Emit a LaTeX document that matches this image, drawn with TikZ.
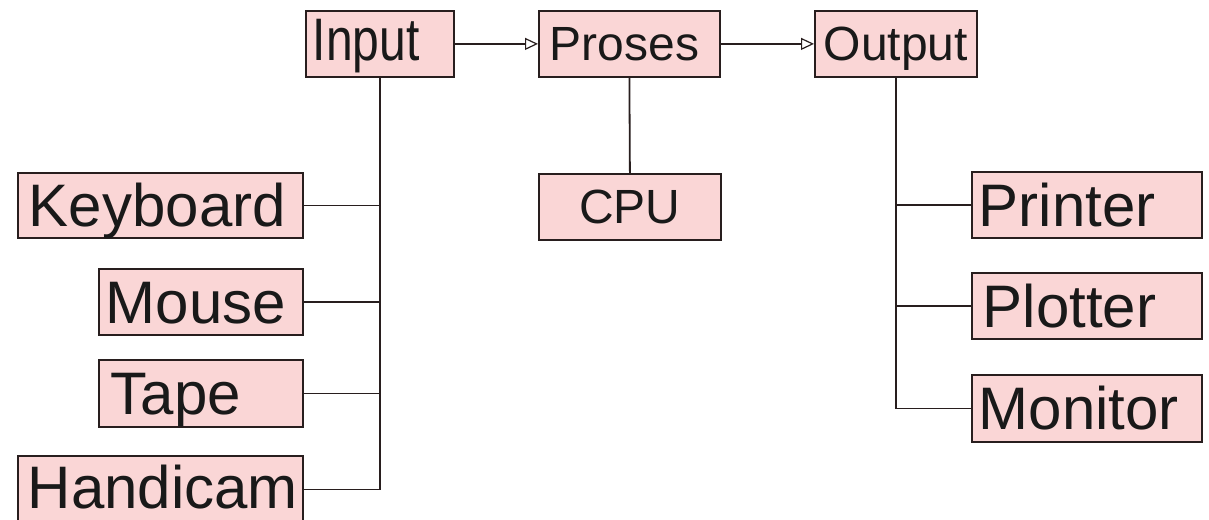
\documentclass[tikz,border=0pt]{standalone}
\usepackage{fontspec}
\setmainfont{Liberation Sans}
\usetikzlibrary{arrows.meta}
\definecolor{boxpink}{RGB}{250,214,214}
\definecolor{edge}{RGB}{40,30,30}
\begin{document}
\begin{tikzpicture}[x=1pt,y=-1pt,
  box/.style={draw=edge, line width=1.8pt, fill=boxpink, anchor=north west,
    inner ysep=0pt, align=left, text=black!90},
  big/.style={font=\fontsize{60}{60}\selectfont, text height=43pt, text depth=0pt},
  med/.style={font=\fontsize{48}{48}\selectfont, text height=34pt, text depth=0pt},
  link/.style={draw=edge, line width=1.8pt},
  flow/.style={link, -{Triangle[open, length=13pt, width=12pt, line width=1.2pt]}}]
\useasboundingbox (0,0) rectangle (1209,519);
\fill[white] (0,0) rectangle (1209,519);
% top row
\node[box, med, minimum width=148pt, minimum height=66pt, text width=134pt, inner xsep=7pt] (in) at (305,10) {\scalebox{1}[1.25]{Input}};
\node[box, med, minimum width=181pt, minimum height=66pt, text width=159pt, inner xsep=11pt] (pro) at (538,10) {Proses};
\node[box, med, minimum width=162pt, minimum height=66pt, text width=144pt, inner xsep=9pt] (out) at (814,10) {Output};
\node[box, med, minimum width=182pt, minimum height=66pt, text width=162pt, inner xsep=10pt, align=center] (cpu) at (538,173) {CPU};
% inputs
\node[box, big, minimum width=285pt, minimum height=65pt, text width=263pt, inner xsep=11pt] (key) at (17,172) {Keyboard};
\node[box, big, minimum width=204pt, minimum height=66pt, text width=190pt, inner xsep=7pt] (mou) at (98,268) {Mouse};
\node[box, big, minimum width=204pt, minimum height=67pt, text width=180pt, inner xsep=12pt] (tap) at (98,359) {Tape};
\node[box, big, text depth=4pt, minimum width=285pt, minimum height=67pt, text width=265pt, inner xsep=10pt] (han) at (17,455) {Handicam};
% outputs
\node[box, big, minimum width=230pt, minimum height=66pt, text width=216pt, inner xsep=7pt] (pri) at (971,171) {Printer};
\node[box, big, minimum width=230pt, minimum height=66pt, text width=208pt, inner xsep=11pt] (plo) at (971,272) {Plotter};
\node[box, big, minimum width=230pt, minimum height=67pt, text width=216pt, inner xsep=7pt] (mon) at (971,374) {Monitor};
% connectors
\draw[flow] (in.east) -- (pro.west);
\draw[flow] (pro.east) -- (out.west);
\draw[link] (pro.south) -- (cpu.north);
\draw[link] (in.south) -- (in.south |- han.east) -- (han.east);
\draw[link] (key.east) -- (key.east -| in.south);
\draw[link] (mou.east) -- (mou.east -| in.south);
\draw[link] (tap.east) -- (tap.east -| in.south);
\draw[link] (out.south) -- (out.south |- mon.west) -- (mon.west);
\draw[link] (pri.west) -- (pri.west -| out.south);
\draw[link] (plo.west) -- (plo.west -| out.south);
\end{tikzpicture}
\end{document}
